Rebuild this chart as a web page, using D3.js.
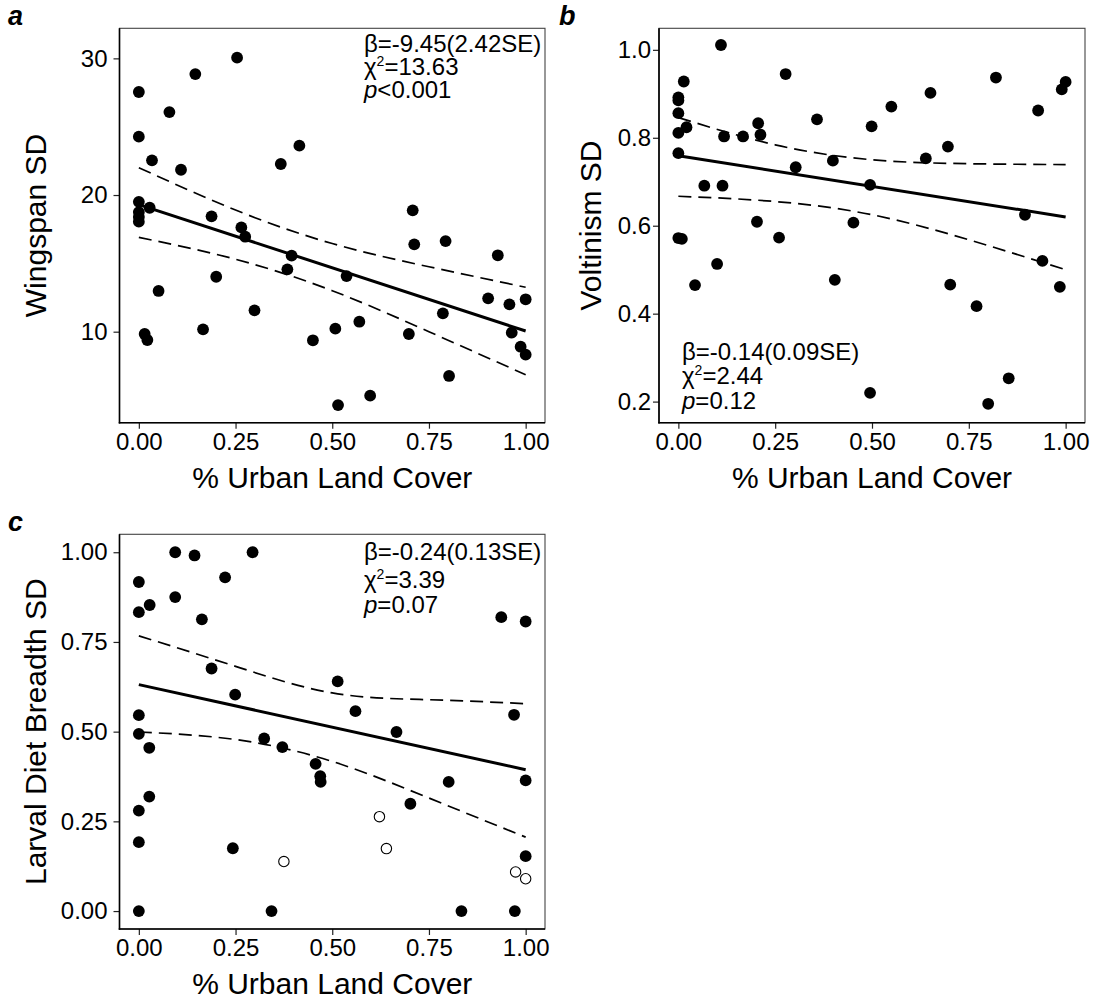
<!DOCTYPE html>
<html>
<head>
<meta charset="utf-8">
<script src="https://cdn.jsdelivr.net/npm/d3@7"></script>
<style>
    body { margin: 0; background: #fff; }
    svg text { font-family: "Liberation Sans", Arial, sans-serif; fill: #000; }
</style>
</head>
<body>
<div id="chart"></div>
<script>
// ---------- data ----------
var urbanTicks = [0, 0.25, 0.5, 0.75, 1];
var fitX = [0, 1];
var bandX = [0, 0.25, 0.5, 0.75, 1];

// a: wingspan SD
var wingUrban = [0, 0, 0, 0, 0, 0, 0.254, 0.146, 0.079, 0.034, 0.109, 0.367, 0.415, 0.028, 0.188,
    0.265, 0.275, 0.395, 0.384, 0.200, 0.051, 0.299, 0.166, 0.015, 0.022, 0.450,
    0.708, 0.712, 0.793, 0.928, 0.537, 0.903, 0.958, 1.0, 0.786, 0.508, 0.570, 0.698,
    0.964, 0.987, 1.0, 0.802, 0.598, 0.515];
var wingSD = [27.54, 24.27, 19.5, 18.75, 18.4, 18.05, 30.05, 28.85, 26.07, 22.54, 21.85, 22.27, 23.61, 19.07, 18.44,
    17.63, 16.95, 15.56, 14.56, 14.02, 12.98, 11.56, 10.17, 9.83, 9.39, 9.37,
    18.88, 16.39, 16.63, 15.59, 14.07, 12.44, 12.0, 12.37, 11.34, 10.22, 10.73, 9.83,
    9.93, 8.90, 8.32, 6.76, 5.32, 4.63];
var wingFit = [19.3, 10.05];
var wingUpper = [22.0, 18.9, 16.45, 14.75, 13.25];
var wingLower = [16.9, 15.3, 13.0, 10.0, 6.85];
var wingTicks = [10, 20, 30];
var wingStats = ["=-9.45(2.42SE)", "=13.63", "<0.001"];

// b: voltinism SD
var voltUrban = [0.110, 0.277, 0.014, 0, 0, 0, 0.358, 0.206, 0.021, 0, 0.212, 0.118, 0.167, 0.499, 0,
    0.399, 0.303, 0.067, 0.114, 0.495, 0.203, 0.452, 0, 0.009, 0.260, 0.100, 0.043, 0.404, 0.495,
    0.820, 1.0, 0.990, 0.651, 0.550, 0.929, 0.696, 0.639, 0.895, 0.940, 0.985, 0.702, 0.770, 0.853, 0.800];
var voltSD = [1.011, 0.945, 0.928, 0.892, 0.885, 0.856, 0.842, 0.833, 0.824, 0.811, 0.807, 0.803, 0.803, 0.826, 0.765,
    0.748, 0.733, 0.691, 0.691, 0.693, 0.609, 0.607, 0.572, 0.570, 0.573, 0.513, 0.465, 0.477, 0.220,
    0.937, 0.927, 0.910, 0.902, 0.871, 0.862, 0.780, 0.753, 0.625, 0.520, 0.461, 0.466, 0.417, 0.253, 0.195];
var voltFit = [0.759, 0.620];
var voltUpper = [0.846, 0.784, 0.750, 0.741, 0.739];
var voltLower = [0.667, 0.655, 0.625, 0.568, 0.500];
var voltTicks = [0.2, 0.4, 0.6, 0.8, 1.0];
var voltStats = ["=-0.14(0.09SE)", "=2.44", "=0.12"];

// c: larval diet breadth SD (open = hollow points)
var dietUrban = [0.094, 0.144, 0.294, 0, 0.223, 0.094, 0.028, 0, 0.163, 0.188, 0.249, 0, 0, 0.027, 0.324,
    0.371, 0.457, 0.469, 0.470, 0.027, 0, 0, 0.243, 0, 0.343,
    0.937, 1.0, 0.514, 0.560, 0.666, 0.970, 0.801, 1.0, 0.702, 1.0, 0.834, 0.972];
var dietSD = [1.0, 0.991, 1.0, 0.917, 0.930, 0.875, 0.853, 0.833, 0.813, 0.676, 0.603, 0.546, 0.494, 0.455, 0.481,
    0.457, 0.410, 0.376, 0.360, 0.319, 0.280, 0.192, 0.175, 0, 0,
    0.819, 0.807, 0.640, 0.557, 0.499, 0.547, 0.360, 0.364, 0.299, 0.153, 0, 0];
var dietOpenUrban = [0.375, 0.622, 0.640, 0.974, 1.0];
var dietOpenSD = [0.138, 0.263, 0.174, 0.109, 0.090];
var dietFit = [0.631, 0.394];
var dietUpper = [0.767, 0.682, 0.608, 0.589, 0.578];
var dietLower = [0.499, 0.478, 0.417, 0.315, 0.206];
var dietTicks = [0, 0.25, 0.5, 0.75, 1.0];
var dietStats = ["=-0.24(0.13SE)", "=3.39", "=0.07"];

// ---------- drawing ----------
var svg = d3.select("#chart").append("svg")
    .attr("width", 1097)
    .attr("height", 999);

function zip(xs, ys) {
    return xs.map(function (x, i) { return [x, ys[i]]; });
}

function drawPanel(p) {
    var x = d3.scaleLinear().domain([-0.05, 1.05]).range([p.left, p.right]);
    var y = d3.scaleLinear().domain(p.yDomain).range([p.bottom, p.top]);
    var g = svg.append("g");

    // panel border (grey), then black axis lines on left/bottom
    g.append("rect")
        .attr("x", p.left).attr("y", p.top)
        .attr("width", p.right - p.left).attr("height", p.bottom - p.top)
        .attr("fill", "none").attr("stroke", "#444").attr("stroke-width", 1.1);

    // axes
    var yAxis = d3.axisLeft(y).tickValues(p.yTicks).tickFormat(d3.format(p.yFmt))
        .tickSize(6).tickPadding(p.yPad);
    var xAxis = d3.axisBottom(x).tickValues(urbanTicks).tickFormat(d3.format(".2f"))
        .tickSize(6).tickPadding(4);
    var ya = g.append("g").attr("transform", "translate(" + p.left + ",0)").call(yAxis);
    var xa = g.append("g").attr("transform", "translate(0," + p.bottom + ")").call(xAxis);
    [ya, xa].forEach(function (a) {
        a.select(".domain").remove();
        a.selectAll(".tick line").attr("stroke", "#222").attr("stroke-width", 1.2);
        a.selectAll(".tick text").attr("font-size", 24).attr("fill", "#000");
    });

    g.append("line")
        .attr("x1", p.left).attr("x2", p.left).attr("y1", p.top).attr("y2", p.bottom + 0.75)
        .attr("stroke", "#000").attr("stroke-width", 1.6);
    g.append("line")
        .attr("x1", p.left - 0.75).attr("x2", p.right).attr("y1", p.bottom).attr("y2", p.bottom)
        .attr("stroke", "#000").attr("stroke-width", 1.6);

    // axis titles
    g.append("text")
        .attr("x", (p.left + p.right) / 2).attr("y", p.bottom + 65)
        .attr("text-anchor", "middle").attr("font-size", 30)
        .text("% Urban Land Cover");
    g.append("text")
        .attr("transform", "translate(" + p.titleX + "," + (p.top + p.bottom) / 2 + ") rotate(-90)")
        .attr("text-anchor", "middle").attr("font-size", 30)
        .text(p.yTitle);

    // panel letter
    g.append("text")
        .attr("x", p.letterX).attr("y", p.top - 3)
        .attr("font-size", 27).attr("font-weight", "bold").attr("font-style", "italic")
        .text(p.letter);

    // points
    g.selectAll("circle.pt").data(zip(p.xs, p.ys)).enter().append("circle")
        .attr("class", "pt")
        .attr("cx", function (d) { return x(d[0]); })
        .attr("cy", function (d) { return y(d[1]); })
        .attr("r", 5.9)
        .attr("fill", "#000");
    if (p.openXs) {
        g.selectAll("circle.open").data(zip(p.openXs, p.openYs)).enter().append("circle")
            .attr("class", "open")
            .attr("cx", function (d) { return x(d[0]); })
            .attr("cy", function (d) { return y(d[1]); })
            .attr("r", 5.2)
            .attr("fill", "none").attr("stroke", "#000").attr("stroke-width", 1.1);
    }

    // fit + confidence band
    var line = d3.line()
        .x(function (d) { return x(d[0]); })
        .y(function (d) { return y(d[1]); });
    var curve = d3.line()
        .x(function (d) { return x(d[0]); })
        .y(function (d) { return y(d[1]); })
        .curve(d3.curveNatural);
    [p.upper, p.lower].forEach(function (b) {
        g.append("path")
            .attr("d", curve(zip(bandX, b)))
            .attr("fill", "none").attr("stroke", "#000").attr("stroke-width", 1.7)
            .attr("stroke-dasharray", "13,7");
    });
    g.append("path")
        .attr("d", line(zip(fitX, p.fit)))
        .attr("fill", "none").attr("stroke", "#000").attr("stroke-width", 3);

    // stats annotation
    var s = p.stats;
    var t1 = g.append("text").attr("x", p.statX).attr("y", p.statY[0]).attr("font-size", 24);
    t1.append("tspan").text("\u03b2");
    t1.append("tspan").text(s[0]);
    var t2 = g.append("text").attr("x", p.statX).attr("y", p.statY[1]).attr("font-size", 24);
    t2.append("tspan").text("\u03c7");
    t2.append("tspan").attr("font-size", 14).attr("dy", -9).text("2");
    t2.append("tspan").attr("dy", 9).text(s[1]);
    var t3 = g.append("text").attr("x", p.statX).attr("y", p.statY[2]).attr("font-size", 24);
    t3.append("tspan").attr("font-style", "italic").text("p");
    t3.append("tspan").text(s[2]);
}

drawPanel({
    letter: "a", letterX: 8,
    left: 119.5, right: 545, top: 28.3, bottom: 422.7,
    yDomain: [3.34, 32.2], yTicks: wingTicks, yFmt: "d", yPad: 6,
    yTitle: "Wingspan SD", titleX: 46,
    xs: wingUrban, ys: wingSD,
    fit: wingFit, upper: wingUpper, lower: wingLower,
    stats: wingStats, statX: 364, statY: [51.7, 75, 98.3]
});

drawPanel({
    letter: "b", letterX: 559,
    left: 659, right: 1085, top: 28.3, bottom: 422.7,
    yDomain: [0.152, 1.049], yTicks: voltTicks, yFmt: ".1f", yPad: 2,
    yTitle: "Voltinism SD", titleX: 601,
    xs: voltUrban, ys: voltSD,
    fit: voltFit, upper: voltUpper, lower: voltLower,
    stats: voltStats, statX: 682, statY: [360, 384, 408.5]
});

drawPanel({
    letter: "c", letterX: 8,
    left: 119.5, right: 545, top: 534.3, bottom: 929,
    yDomain: [-0.05, 1.05], yTicks: dietTicks, yFmt: ".2f", yPad: 6,
    yTitle: "Larval Diet Breadth SD", titleX: 46,
    xs: dietUrban, ys: dietSD, openXs: dietOpenUrban, openYs: dietOpenSD,
    fit: dietFit, upper: dietUpper, lower: dietLower,
    stats: dietStats, statX: 364, statY: [560, 587.5, 613]
});
</script>
</body>
</html>
